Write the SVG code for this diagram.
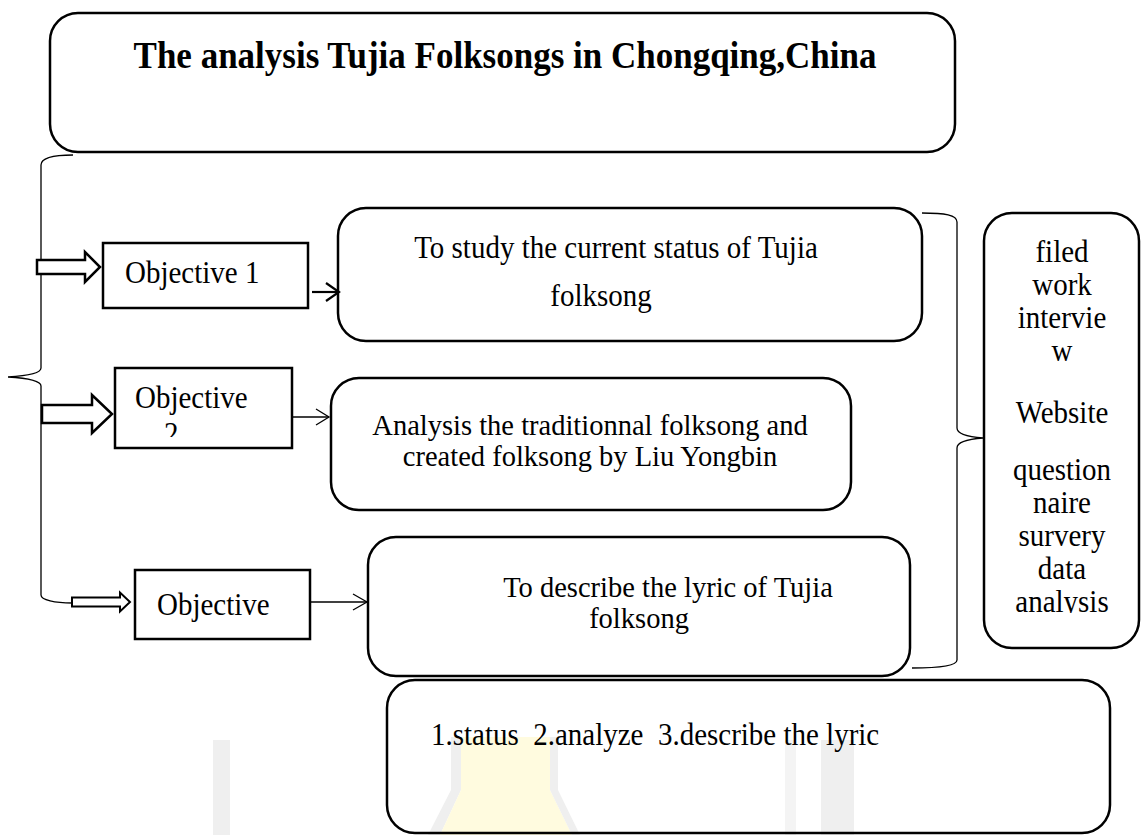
<svg xmlns="http://www.w3.org/2000/svg" width="1141" height="835" viewBox="0 0 1141 835">
<style>
.box{fill:#fff;stroke:#000;stroke-width:2.5}
.open{fill:none;stroke:#000;stroke-width:2.5}
.t{font-family:"Liberation Serif","Times New Roman",serif;font-size:29px;fill:#000}
.t2{font-family:"Liberation Serif","Times New Roman",serif;font-size:28.5px;fill:#000}
.tb{font-family:"Liberation Serif","Times New Roman",serif;font-size:35px;font-weight:bold;fill:#000}
.brace{fill:none;stroke:#000;stroke-width:1.3}
.ln{fill:none;stroke:#000;stroke-width:1.3}
.fat{fill:#fff;stroke:#000;stroke-width:2.5;stroke-linejoin:miter}
</style>
<defs>
<clipPath id="c2"><rect x="115" y="368" width="177" height="69"/></clipPath>
<clipPath id="cr"><rect x="984" y="213" width="155" height="400"/></clipPath>
</defs>
<rect width="1141" height="835" fill="#fff"/>
<g id="watermark">
<rect x="213" y="740" width="17" height="95" fill="#efefef"/>
<polygon points="451,737 461,737 461,790 440,835 428,835 451,790" fill="#efefef"/>
<polygon points="461,737 550,737 550,790 572,835 440,835 461,790" fill="#fffbdf"/>
<polygon points="550,737 558,737 558,790 580,835 572,835 550,790" fill="#efefef"/>
<rect x="785" y="740" width="11" height="95" fill="#f4f4f4"/>
<rect x="821" y="740" width="33" height="95" fill="#efefef"/>
</g>
<g id="title">
<rect class="box" x="50" y="13" width="905" height="139" rx="28"/>
<text class="tb" text-anchor="middle" transform="translate(505,68) scale(1,1.1)">The analysis Tujia Folksongs in Chongqing,China</text>
</g>
<g id="obj1">
<rect class="box" x="103" y="243" width="205" height="65"/>
<text class="t" transform="translate(125,283) scale(1,1.12)">Objective 1</text>
</g>
<g id="goal1">
<rect class="box" x="338" y="208" width="584" height="133" rx="28"/>
<text class="t" text-anchor="middle" transform="translate(616,258) scale(1,1.12)">To study the current status of Tujia</text>
<text class="t" text-anchor="middle" transform="translate(601,306) scale(1,1.12)">folksong</text>
</g>
<g id="obj2">
<rect class="box" x="115" y="368" width="177" height="80"/>
<text class="t" transform="translate(135,408) scale(1,1.12)">Objective</text>
<g clip-path="url(#c2)"><text class="t" transform="translate(164,444) scale(1,1.12)">2</text></g>
</g>
<g id="goal2">
<rect class="box" x="331" y="378" width="520" height="132" rx="28"/>
<text class="t2" x="590" y="435" text-anchor="middle">Analysis the traditionnal folksong and</text>
<text class="t2" x="590" y="466" text-anchor="middle">created folksong by Liu Yongbin</text>
</g>
<g id="obj3">
<rect class="box" x="135" y="570" width="175" height="69"/>
<text class="t" transform="translate(157,615) scale(1,1.12)">Objective</text>
</g>
<g id="goal3">
<rect class="box" x="368" y="537" width="542" height="139" rx="28"/>
<text class="t2" x="668" y="597" text-anchor="middle">To describe the lyric of Tujia</text>
<text class="t2" x="639" y="628" text-anchor="middle">folksong</text>
</g>
<g id="methods">
<rect class="box" x="984" y="213" width="155" height="435" rx="28"/>
<g clip-path="url(#cr)">
<text class="t" text-anchor="middle" transform="translate(1062,262) scale(1,1.12)">filed</text>
<text class="t" text-anchor="middle" transform="translate(1062,295) scale(1,1.12)">work</text>
<text class="t" text-anchor="middle" transform="translate(1062,328) scale(1,1.12)">intervie</text>
<text class="t" text-anchor="middle" transform="translate(1062,361) scale(1,1.12)">w</text>
<text class="t" text-anchor="middle" transform="translate(1062,423) scale(1,1.12)">Website</text>
<text class="t" text-anchor="middle" transform="translate(1062,480) scale(1,1.12)">question</text>
<text class="t" text-anchor="middle" transform="translate(1062,513) scale(1,1.12)">naire</text>
<text class="t" text-anchor="middle" transform="translate(1062,546) scale(1,1.12)">survery</text>
<text class="t" text-anchor="middle" transform="translate(1062,579) scale(1,1.12)">data</text>
<text class="t" text-anchor="middle" transform="translate(1062,612) scale(1,1.12)">analysis</text>
</g>
</g>
<g id="summary">
<rect x="387" y="680" width="723" height="153" rx="28" fill="none" stroke="#000" stroke-width="2.5"/>
<text class="t" xml:space="preserve" transform="translate(431,745) scale(1,1.12)">1.status  2.analyze  3.describe the lyric</text>
</g>
<g id="connectors">
<path class="brace" d="M73,155 C55,155 41,157 41,165 L41,368 C41,374 25,376 8,377 C25,378 41,380 41,386 L41,595 C41,600 55,603 72,603"/>
<path class="brace" d="M922,213 C945,213 957,215 957,222 L957,428 C957,434 970,437 983,438 C970,439 957,442 957,448 L957,660 C957,666 940,668 912,668"/>
<polygon class="fat" points="37,260 85,260 85,252 100,267 85,282 85,274 37,274"/>
<polygon class="fat" points="42,405 92,405 92,395 112,414 92,433 92,423 42,423"/>
<polygon class="fat" points="72,597.5 120,597.5 120,592.5 130,602 120,611.5 120,606.5 72,606.5" style="stroke-width:2"/>
<line x1="312" y1="292" x2="339" y2="292" stroke="#000" stroke-width="2.2"/>
<polyline class="open" points="326,283 339,292 326,301" style="stroke-width:2.2"/>
<line class="ln" x1="292" y1="417" x2="329" y2="417"/>
<polyline class="ln" points="316,409 329,417 316,425"/>
<line class="ln" x1="310" y1="602" x2="367" y2="602"/>
<polyline class="ln" points="353,594 367,602 353,610"/>
</g>
</svg>
